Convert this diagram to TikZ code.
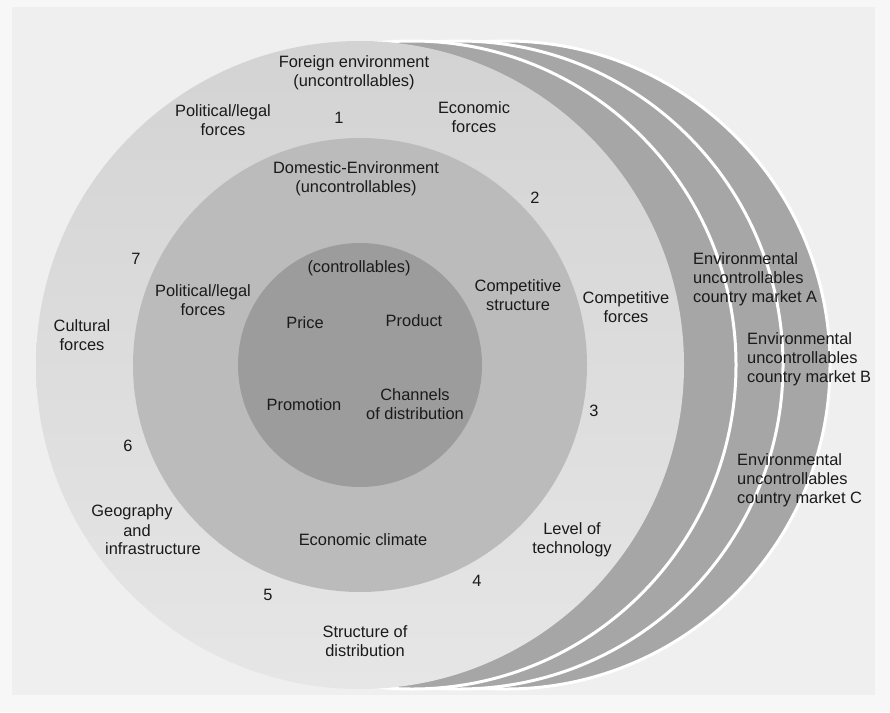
\documentclass[tikz,border=0pt]{standalone}
\usepackage{fontspec}
\setmainfont{Liberation Sans}
\definecolor{marginbg}{HTML}{F7F7F7}
\definecolor{pagebg}{HTML}{EFEFEF}
\definecolor{outertop}{HTML}{D3D3D3}
\definecolor{outerbot}{HTML}{E6E6E6}
\definecolor{midfill}{HTML}{BBBBBB}
\definecolor{innerfill}{HTML}{9C9C9C}
\definecolor{crescent}{HTML}{A6A6A6}
\definecolor{txt}{HTML}{1A1A1A}
\begin{document}
\begin{tikzpicture}[x=1pt,y=-1pt,
  lbl/.style={font=\fontsize{16.4}{19}\selectfont, text=txt, align=center, inner sep=0pt},
  lbll/.style={lbl, align=left, anchor=west},
  market/.style={fill=crescent, draw=white, line width=3pt}]
% page
\fill[marginbg] (0,0) rectangle (890,712);
\useasboundingbox (0,0) rectangle (890,712);
\fill[pagebg] (12,7) rectangle (875,695);
% country market circles (back to front)
\path[market] (506,365) circle[radius=324pt];
\path[market] (459,365) circle[radius=324pt];
\path[market] (412,365) circle[radius=324pt];
% concentric environments
\shade[top color=outertop, bottom color=outerbot] (360,365) circle[radius=324pt];
\fill[midfill] (360,365) circle[radius=227pt];
\fill[innerfill] (360,365) circle[radius=122pt];
% labels: foreign environment
\node[lbl] (foreign) at (354,73) {Foreign environment\\(uncontrollables)};
\node[lbl] (pol1) at (223,120) {Political/legal\\forces};
\node[lbl] (n1) at (339,118) {1};
\node[lbl] (econ) at (474,117) {Economic\\forces};
\node[lbl] (n2) at (535,198) {2};
\node[lbl] (n7) at (136,259) {7};
\node[lbl] (compforces) at (626,307.5) {Competitive\\forces};
\node[lbl] (cultural) at (82,335.5) {Cultural\\forces};
\node[lbl] (n3) at (594,411) {3};
\node[lbl] (n6) at (128,446) {6};
\node[lbl] (geo1) at (132,512) {Geography};
\node[lbl] (geo2) at (137,531) {and};
\node[lbl] (geo3) at (153,549) {infrastructure};
\node[lbl] (level) at (572,539.5) {Level of\\technology};
\node[lbl] (n4) at (477,581) {4};
\node[lbl] (n5) at (268,595) {5};
\node[lbl] (structure) at (365,641.5) {Structure of\\distribution};
% labels: domestic environment
\node[lbl] (domestic) at (356,178.5) {Domestic-Environment\\(uncontrollables)};
\node[lbl] (pol2) at (203,300.5) {Political/legal\\forces};
\node[lbl] (compstruct) at (518,295.5) {Competitive\\structure};
\node[lbl] (econclimate) at (363,540) {Economic climate};
% labels: controllables
\node[lbl] (controllables) at (359,268) {(controllables)};
\node[lbl] (price) at (305,323) {Price};
\node[lbl] (product) at (414,321) {Product};
\node[lbl] (promotion) at (304,405) {Promotion};
\node[lbl] (channels) at (415,404) {Channels\\of distribution};
% labels: country markets
\node[lbll] (envA) at (693,279) {Environmental\\uncontrollables\\country market A};
\node[lbll] (envB) at (747,359) {Environmental\\uncontrollables\\country market B};
\node[lbll] (envC) at (737,480) {Environmental\\uncontrollables\\country market C};
\end{tikzpicture}
\end{document}
